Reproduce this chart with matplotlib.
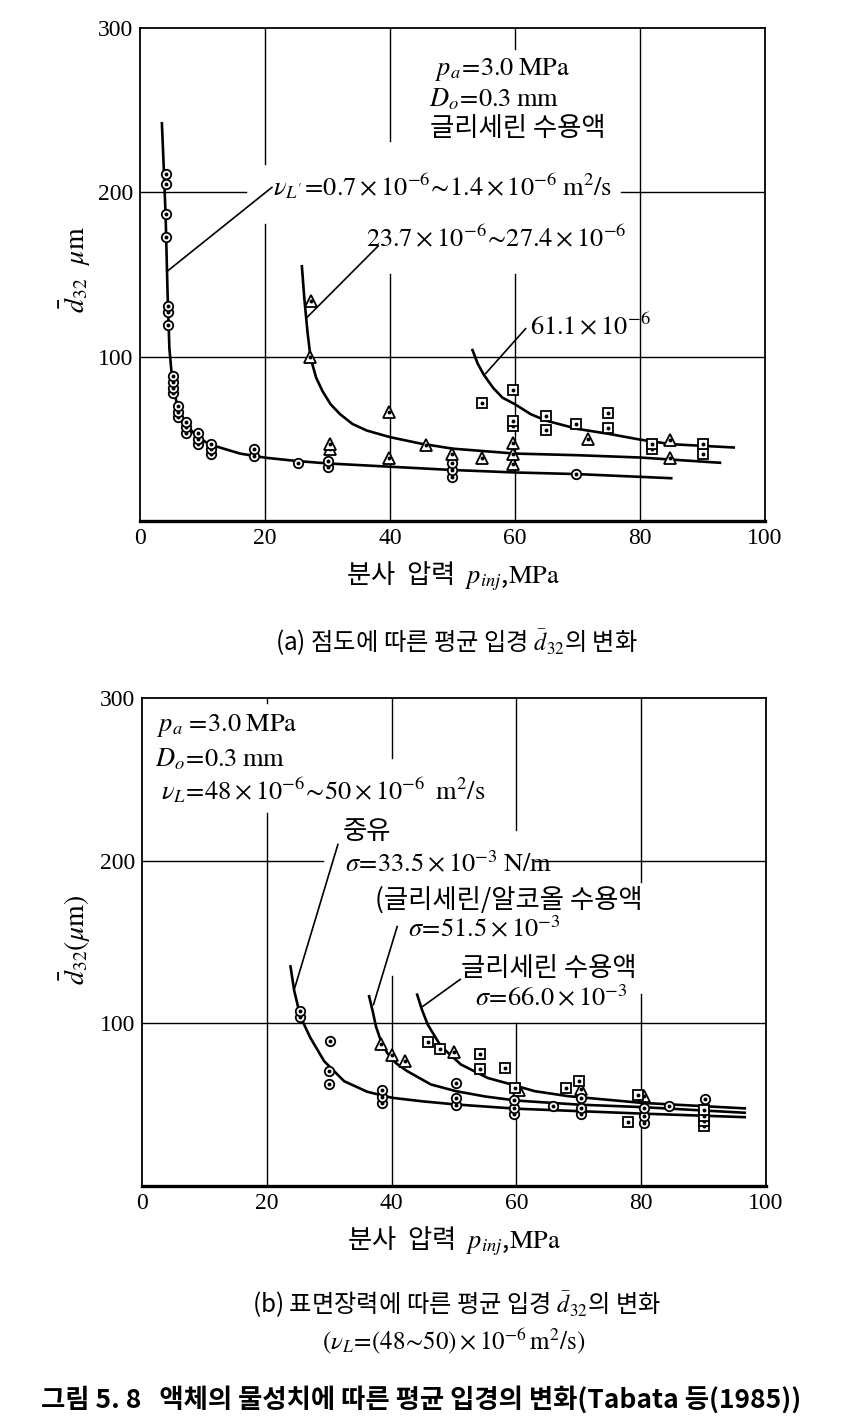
import numpy as np
import matplotlib
matplotlib.use("Agg")
import matplotlib.pyplot as plt

plt.rcParams['mathtext.fontset'] = 'stix'
plt.rcParams['font.family'] = ['Liberation Serif', 'Noto Sans CJK KR', 'DejaVu Sans']

KR = ['Noto Sans CJK KR', 'DejaVu Sans']

# ---- (a) viscosity: measured points ----
a_circ_x = [4.1, 4.1, 4.1, 4.1, 4.4, 4.4, 4.4, 5.2, 5.2, 5.2, 5.2, 6.1, 6.1, 6.1,
            7.4, 7.4, 7.4, 9.2, 9.2, 9.2, 11.4, 11.4, 11.4, 18.2, 18.2, 25.2,
            30, 30, 50, 50, 50, 69.8]
a_circ_y = [211, 205, 187, 173, 131, 127, 119, 88.5, 84.5, 81, 77.6, 69.7, 66, 63,
            60, 57, 53.5, 53.5, 50, 46.7, 47, 43.6, 41, 43.5, 39.4, 35,
            36.5, 33, 35.4, 31, 27, 28.5]
a_tri_x = [27.4, 27.2, 30.4, 30.4, 39.9, 39.9, 45.8, 49.9, 54.8, 59.7, 59.7, 59.7,
           71.7, 84.8, 84.8]
a_tri_y = [134, 99.6, 47, 44, 66, 38, 46, 41, 38.6, 47.7, 41, 34.5, 50, 49.5, 38]
a_sq_x = [54.8, 59.7, 59.7, 59.7, 64.9, 64.9, 69.8, 74.9, 74.9, 82, 82, 90.1, 90.1]
a_sq_y = [72, 79.4, 61, 57.6, 64, 55.6, 58.8, 65.6, 56.8, 47, 43.5, 46.7, 40.6]

# (a) fitted curves
a_c1_x = [3.5, 3.8, 4.1, 4.4, 4.7, 5.1, 5.6, 6.3, 7.3, 8.7, 10.5, 12.5, 16, 20, 25,
          30, 40, 50, 60, 70, 85]
a_c1_y = [242, 215, 185, 140, 105, 88, 76, 66, 59, 53, 48, 45, 41, 38.5, 36.5,
          35, 33, 31, 29.5, 28.5, 26]
a_c2_x = [25.9, 26.3, 26.8, 27.3, 28.2, 29.2, 30.5, 32, 34, 36.3, 40, 45, 50, 60,
          70, 80, 92.8]
a_c2_y = [155, 135, 115, 99, 87, 79, 71, 65, 59, 55, 51, 47, 44, 41, 40, 38.6, 35.4]
a_c3_x = [53.2, 54.0, 55.0, 56.5, 58, 60, 62.5, 65, 70, 75, 80, 85, 95]
a_c3_y = [104, 96, 89, 81, 75, 71, 65, 61, 56, 53, 49.5, 46.7, 44.7]

# ---- (b) surface tension: measured points ----
b_circ_x = [25.4, 25.4, 30.1, 30, 30, 38.4, 38.4, 38.4, 50.3, 50.3, 50.3, 59.6,
            59.6, 59.6, 65.9, 70.3, 70.3, 70.3, 80.5, 80.5, 80.5, 84.4, 90.3]
b_circ_y = [107.4, 103.7, 89, 70.6, 62.8, 58.7, 54.6, 51.1, 63.4, 54.2, 49.7, 52.6,
            48, 44, 49.1, 54.2, 48, 44, 47.7, 43, 38.8, 49.1, 53.6]
b_tri_x = [38.3, 40, 42.2, 50, 60.5, 70.3, 80.5]
b_tri_y = [87, 80.4, 77.1, 82.4, 59, 59.7, 55.2]
b_sq_x = [45.9, 47.8, 54.2, 54.1, 58.1, 59.8, 68, 70, 79.5, 77.9, 90, 90, 90, 90]
b_sq_y = [88.3, 83.9, 81.2, 71.6, 72.6, 60, 60.3, 64.8, 55.8, 39.4, 46.4, 43, 40, 37]

b_c1_x = [23.8, 24.4, 25.4, 27, 29.2, 32.4, 36.1, 40.1, 45, 50.3, 60, 70, 80, 96.6]
b_c1_y = [135, 120, 104, 91, 76.7, 64.4, 57.9, 54.2, 52, 50.1, 47.5, 46, 44.5, 42.3]
b_c2_x = [36.4, 37.0, 37.5, 38.3, 39.3, 40.7, 42.5, 46.3, 50.3, 55, 60, 70, 80, 96.6]
b_c2_y = [116.6, 107, 98, 89, 81.8, 75.5, 70.6, 62.4, 58.3, 55, 52.5, 50, 48.5, 45]
b_c3_x = [44.1, 44.9, 45.8, 47.9, 51.1, 55.4, 59.2, 62.9, 68.3, 80, 96.6]
b_c3_y = [117.6, 108, 99.2, 85.9, 74.7, 66.4, 62.4, 58.3, 55.2, 51.1, 47.7]

x_ticks = [0, 20, 40, 60, 80, 100]
y_ticks = [100, 200, 300]

MATH_FS = 19
KR_FS = 19
CAP_FS = 17.5


def setup(ax, vgrid, hgrid):
    ax.set_xlim(0, 100)
    ax.set_ylim(0, 300)
    ax.set_xticks(x_ticks)
    ax.set_yticks(y_ticks)
    ax.tick_params(length=0, labelsize=17, pad=5)
    # grid drawn by hand: the book leaves gaps where the notes sit
    for x, y0, y1 in vgrid:
        ax.plot([x, x], [y0, y1], color='black', lw=1.0, zorder=1)
    for y, x0, x1 in hgrid:
        ax.plot([x0, x1], [y, y], color='black', lw=1.0, zorder=1)
    for s in ax.spines.values():
        s.set_linewidth(1.3)
    ax.spines['bottom'].set_linewidth(2.4)


def marks(ax, xs, ys, marker, ms):
    order = np.argsort(ys)
    for k, i in enumerate(order):
        z = 4 + k * 0.01
        ax.plot(xs[i], ys[i], marker=marker, ms=ms, mfc='white', mec='black',
                mew=1.3, ls='none', zorder=z)
        ax.plot(xs[i], ys[i], marker='o', ms=1.8, color='black', ls='none',
                zorder=z + 0.005)


def leader(ax, p0, p1):
    ax.plot([p0[0], p1[0]], [p0[1], p1[1]], color='black', lw=1.2, zorder=2)


fig = plt.figure(figsize=(8.45, 14.28), dpi=100)

# ---------------- (a) ----------------
ax1 = fig.add_axes([0.1657, 0.6352, 0.7396, 0.3452])
setup(ax1,
      [(20, 0, 181), (20, 217, 300), (40, 0, 150), (40, 231, 300),
       (60, 0, 150), (60, 287, 300), (80, 0, 300)],
      [(100, 0, 100), (200, 0, 17), (200, 77, 100)])

for cx, cy in [(a_c1_x, a_c1_y), (a_c2_x, a_c2_y), (a_c3_x, a_c3_y)]:
    ax1.plot(cx, cy, color='black', lw=1.9, zorder=3)
marks(ax1, a_circ_x, a_circ_y, 'o', 6.8)
marks(ax1, a_tri_x, a_tri_y, '^', 8)
marks(ax1, a_sq_x, a_sq_y, 's', 6.8)

ax1.text(47.2, 274.5, r'$p_a\!=\!3.0\;\mathrm{MPa}$', fontsize=MATH_FS, va='center')
ax1.text(46.2, 256.4, r'$D_o\!=\!0.3\;\mathrm{mm}$', fontsize=MATH_FS, va='center')
ax1.text(46.4, 238.8, '글리세린 수용액', fontsize=KR_FS, va='center', family=KR)
ax1.text(21.3, 203.6,
         r"$\nu_{L'}\!=\!0.7\times10^{-6}\!\sim\!1.4\times10^{-6}\;\mathrm{m^2/s}$",
         fontsize=MATH_FS, va='center')
ax1.text(36.2, 172, r'$23.7\times10^{-6}\!\sim\!27.4\times10^{-6}$',
         fontsize=MATH_FS, va='center')
ax1.text(62.4, 118.8, r'$61.1\times10^{-6}$', fontsize=MATH_FS, va='center')
leader(ax1, (4.27, 151.7), (21.1, 203))
leader(ax1, (26.7, 123.8), (38.1, 167.3))
leader(ax1, (55.3, 89.7), (61.7, 117))

ax1.set_xlabel(r'분사  압력  $p_{inj}$,$\mathrm{MPa}$', fontsize=KR_FS, family=KR,
               labelpad=8)
fig.text(0.089, 1 - 270 / 1428, r'$\bar{d}_{32}$  $\mu\mathrm{m}$', rotation=90,
         fontsize=20, ha='center', va='center')
fig.text(0.54, 1 - 643 / 1428, r'(a) 점도에 따른 평균 입경 $\bar{d}_{32}$의 변화',
         fontsize=CAP_FS, ha='center', va='center', family=KR)

# ---------------- (b) ----------------
ax2 = fig.add_axes([0.168, 0.1695, 0.7385, 0.3417])
setup(ax2,
      [(20, 0, 229), (20, 297, 300), (40, 0, 129), (40, 263, 300),
       (60, 0, 100), (60, 219, 300), (80, 0, 118), (80, 187, 300)],
      [(100, 0, 100), (200, 0, 29), (200, 63, 100)])

for cx, cy in [(b_c1_x, b_c1_y), (b_c2_x, b_c2_y), (b_c3_x, b_c3_y)]:
    ax2.plot(cx, cy, color='black', lw=1.9, zorder=3)
marks(ax2, b_circ_x, b_circ_y, 'o', 6.8)
marks(ax2, b_tri_x, b_tri_y, '^', 8)
marks(ax2, b_sq_x, b_sq_y, 's', 6.8)

ax2.text(2.4, 283.4, r'$p_a\;\!=\!3.0\;\mathrm{MPa}$', fontsize=MATH_FS, va='center')
ax2.text(2.1, 262.6, r'$D_o\!=\!0.3\;\mathrm{mm}$', fontsize=MATH_FS, va='center')
ax2.text(3.1, 243.6,
         r'$\nu_L\!=\!48\times10^{-6}\!\sim\!50\times10^{-6}\;\;\mathrm{m^2/s}$',
         fontsize=MATH_FS, va='center')
ax2.text(32.2, 217.8, '중유', fontsize=KR_FS, va='center', family=KR)
ax2.text(32.5, 197.5, r'$\sigma\!=\!33.5\times10^{-3}\;\mathrm{N/m}$',
         fontsize=MATH_FS, va='center')
ax2.text(37.3, 176, '(글리세린/알코올 수용액', fontsize=KR_FS, va='center', family=KR)
ax2.text(42.6, 157.7, r'$\sigma\!=\!51.5\times10^{-3}$', fontsize=MATH_FS,
         va='center')
ax2.text(51.2, 134, '글리세린 수용액', fontsize=KR_FS, va='center', family=KR)
ax2.text(53.4, 115.5, r'$\sigma\!=\!66.0\times10^{-3}$', fontsize=MATH_FS,
         va='center')
leader(ax2, (24.5, 122), (31.4, 210))
leader(ax2, (37.1, 111.5), (40.9, 159.5))
leader(ax2, (45.0, 110.4), (51.0, 127))

ax2.set_xlabel(r'분사  압력  $p_{inj}$,$\mathrm{MPa}$', fontsize=KR_FS, family=KR,
               labelpad=8)
fig.text(0.089, 1 - 940 / 1428, r'$\bar{d}_{32}(\mu\mathrm{m})$', rotation=90,
         fontsize=20, ha='center', va='center')
fig.text(0.54, 1 - 1305 / 1428, r'(b) 표면장력에 따른 평균 입경 $\bar{d}_{32}$의 변화',
         fontsize=CAP_FS, ha='center', va='center', family=KR)
fig.text(0.537, 1 - 1341 / 1428,
         r'$(\nu_L\!=\!(48\!\sim\!50)\times10^{-6}\,\mathrm{m^2/s})$',
         fontsize=18, ha='center', va='center')

fig.text(0.498, 1 - 1400 / 1428,
         '그림 5. 8   액체의 물성치에 따른 평균 입경의 변화(Tabata 등(1985))',
         fontsize=19, ha='center', va='center', family=KR, fontweight='bold')

fig.savefig('out.png', dpi=100)
